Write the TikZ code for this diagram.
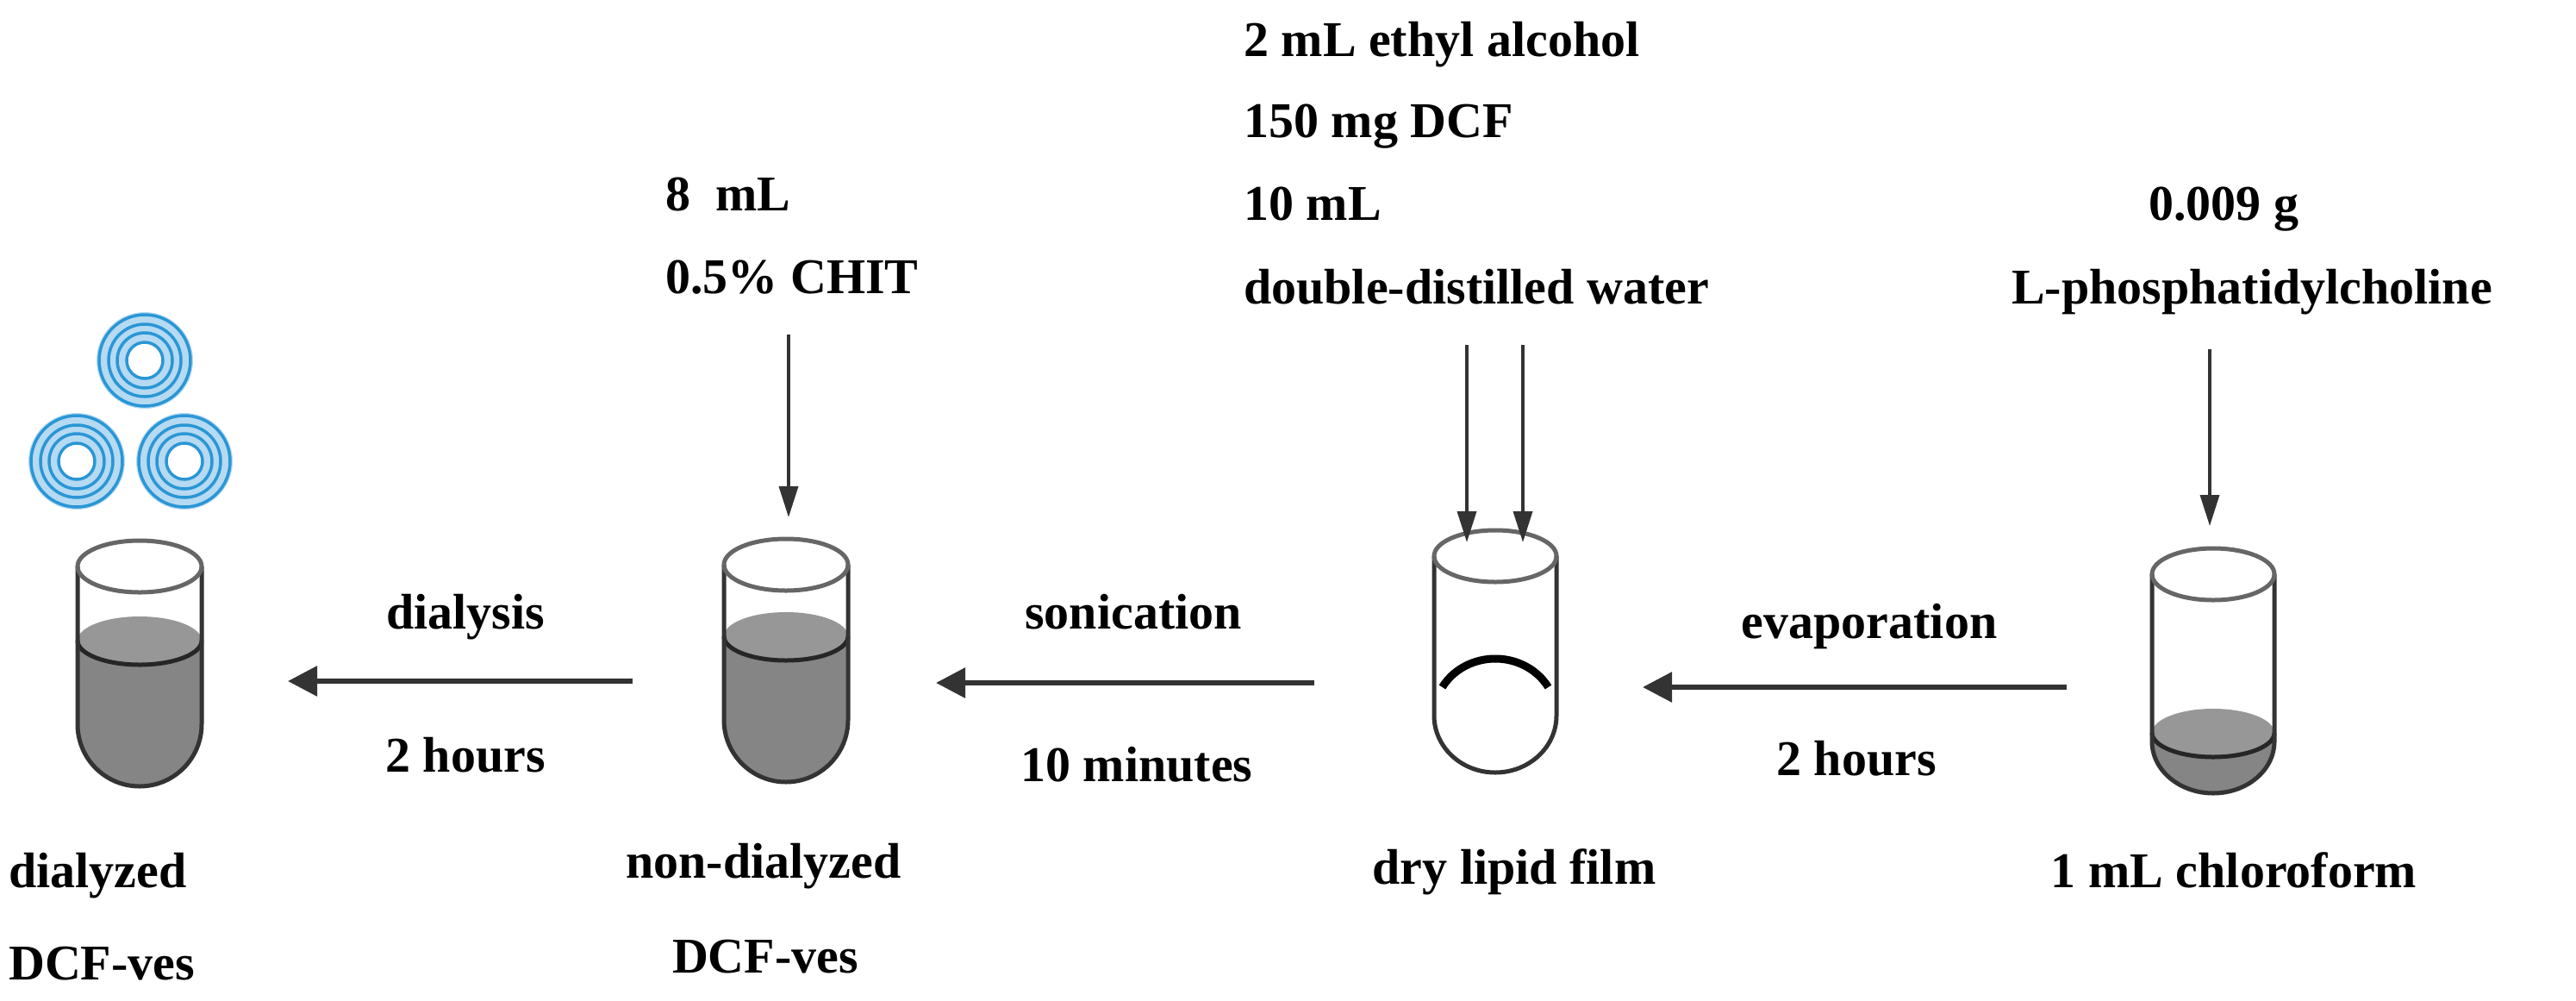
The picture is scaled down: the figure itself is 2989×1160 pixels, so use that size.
\documentclass[tikz,border=0pt]{standalone}
\usepackage{fontspec}
\setmainfont{Liberation Serif}
\usetikzlibrary{arrows.meta}
\definecolor{vblue}{HTML}{2A96D6}
\definecolor{vlight}{HTML}{B5DAF2}
\definecolor{liq}{HTML}{858585}
\tikzset{
 lbl/.style={font=\fontsize{58}{60}\selectfont\bfseries, inner sep=0pt, anchor=base},
 flow/.style={line width=6pt, draw=black!80, -{Triangle[length=34pt,width=34pt]}},
 feed/.style={line width=3.5pt, draw=black!80, -{Triangle[length=36pt,width=22pt]}},
 wall/.style={line width=5pt, draw=black!80},
 rim/.style={line width=5pt, draw=black!60},
}
% tube: cx, rx, ytop(center of rim), ybot (start of round bottom), depth
\newcommand{\mytube}[5]{%
 \draw[wall] (#1-#2,#3) -- (#1-#2,#4) arc[start angle=180,end angle=0,x radius=#2,y radius=#5] -- (#1+#2,#3);
 \draw[rim] (#1,#3) ellipse[x radius=#2,y radius=30];
}
% liquid: cx, rx, yliq, ybot, depth
\newcommand{\myliquid}[5]{%
 \fill[liq] (#1-#2,#3) -- (#1-#2,#4) arc[start angle=180,end angle=0,x radius=#2,y radius=#5] -- (#1+#2,#3) -- cycle;
 \fill[liq!85] (#1,#3) ellipse[x radius=#2,y radius=28];
 \draw[line width=5pt, black!85] (#1-#2,#3) arc[start angle=180,end angle=0,x radius=#2,y radius=28];
}
\newcommand{\vesicle}[2]{%
 \fill[vlight] (#1,#2) circle[radius=56];
 \foreach \r in {53,42,32,21} \draw[vblue, line width=3.5pt] (#1,#2) circle[radius=\r];
 \fill[white] (#1,#2) circle[radius=19];
}
\begin{document}
\begin{tikzpicture}[x=1pt,y=-1pt]
\useasboundingbox (0,0) rectangle (2989,1160);
% vesicles
\vesicle{168}{418}
\vesicle{89}{535}
\vesicle{214}{535}
% tubes
\myliquid{162}{72}{743}{840}{72}
\mytube{162}{72}{657}{840}{72}
\myliquid{912}{72}{738}{835}{72}
\mytube{912}{72}{655}{835}{72}
\mytube{1735}{71}{645}{830}{66}
\draw[line width=9pt, black] (1735,830) ++(-150:71 and 66) arc[start angle=-150,end angle=-30,x radius=71,y radius=66];
\myliquid{2568}{71}{850}{860}{60}
\mytube{2568}{71}{666}{860}{60}
% named points
\coordinate (t1) at (334,790);
\coordinate (t2r) at (734,790);
\coordinate (t2l) at (1086,792);
\coordinate (t3r) at (1525,792);
\coordinate (t3l) at (1906,797);
\coordinate (t4r) at (2398,797);
\coordinate (a1s) at (915,388); \coordinate (a1e) at (915,600);
\coordinate (a2s) at (1702,400); \coordinate (a2e) at (1702,629);
\coordinate (a3s) at (1767,400); \coordinate (a3e) at (1767,629);
\coordinate (a4s) at (2564,405); \coordinate (a4e) at (2564,610);
\draw[flow] (t2r) -- (t1);
\draw[flow] (t3r) -- (t2l);
\draw[flow] (t4r) -- (t3l);
\draw[feed] (a1s) -- (a1e);
\draw[feed] (a2s) -- (a2e);
\draw[feed] (a3s) -- (a3e);
\draw[feed] (a4s) -- (a4e);
% texts
\node[lbl,anchor=base west] (x1) at (1443,65) {2 mL ethyl alcohol};
\node[lbl,anchor=base west] (x2) at (1443,159) {150 mg DCF};
\node[lbl,anchor=base west] (x3) at (1443,255) {10 mL};
\node[lbl,anchor=base west] (x4) at (1443,352) {double-distilled water};
\node[lbl,anchor=base west] (c1) at (772,244) {8~ mL};
\node[lbl,anchor=base west] (c2) at (772,340) {0.5\% CHIT};
\node[lbl] (p1) at (2580,255) {0.009 g};
\node[lbl] (p2) at (2613,352) {L-phosphatidylcholine};
\node[lbl] (d1) at (540,729) {dialysis};
\node[lbl] (d2) at (540,895) {2 hours};
\node[lbl] (s1) at (1315,729) {sonication};
\node[lbl] (s2) at (1319,906) {10 minutes};
\node[lbl] (e1) at (2169,740) {evaporation};
\node[lbl] (e2) at (2154,899) {2 hours};
\node[lbl,anchor=base west] (b1) at (10,1029) {dialyzed};
\node[lbl,anchor=base west] (b2) at (10,1136) {DCF-ves};
\node[lbl] (b3) at (886,1018) {non-dialyzed};
\node[lbl] (b4) at (888,1128) {DCF-ves};
\node[lbl] (b5) at (1757,1025) {dry lipid film};
\node[lbl] (b6) at (2592,1029) {1 mL chloroform};
\end{tikzpicture}
\end{document}
